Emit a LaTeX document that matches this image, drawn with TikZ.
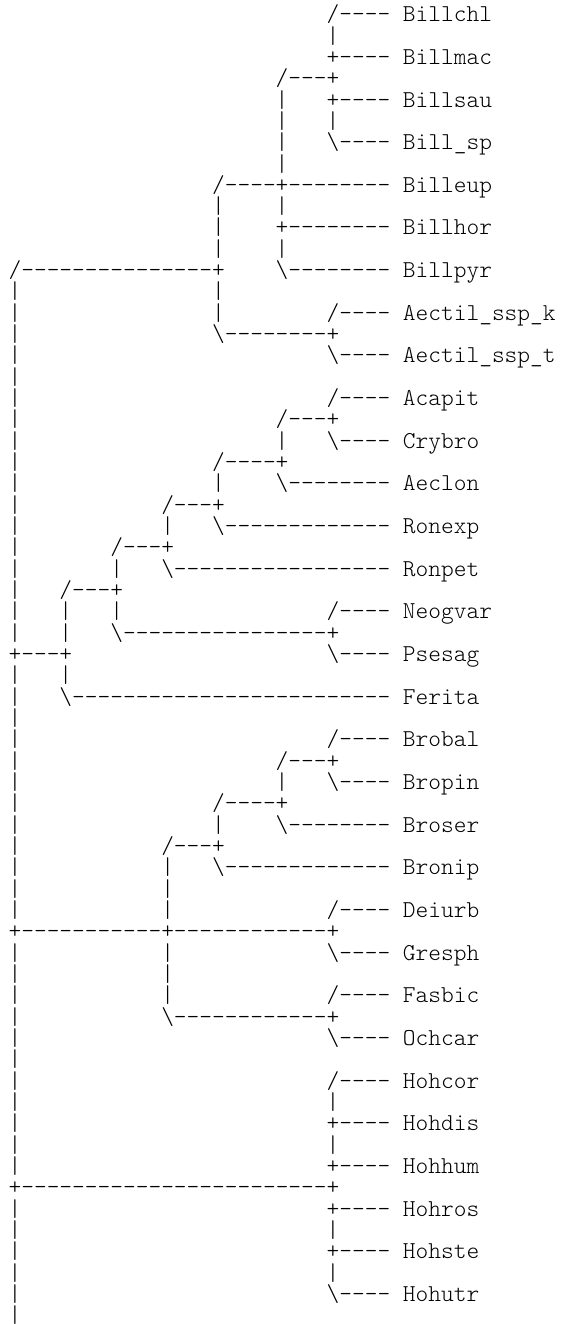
\documentclass[tikz,border=0pt]{standalone}
\usepackage{fontspec}
\setmonofont{lmmonolt10-regular.otf}
\tikzset{seg/.style={inner sep=0pt, outer sep=0pt, anchor=base west,
  font=\ttfamily\fontsize{11.43pt}{11.43pt}\selectfont, text=black}}
\newcommand\asciiseg[3]{\node[seg] (r#1c#2) at ({4.06pt+#2*6pt},{-10.24pt-#1*10.06pt}) {#3};}
\newcommand\bs{\textbackslash}
\begin{document}
\begin{tikzpicture}
\useasboundingbox (0,0) rectangle (265.6pt,-624.5pt);
\asciiseg{0}{25}{/----~Billchl}
\asciiseg{1}{25}{|}
\asciiseg{2}{25}{+----~Billmac}
\asciiseg{3}{21}{/---+}
\asciiseg{4}{21}{|}\asciiseg{4}{25}{+----~Billsau}
\asciiseg{5}{21}{|}\asciiseg{5}{25}{|}
\asciiseg{6}{21}{|}\asciiseg{6}{25}{\bs----~Bill\_sp}
\asciiseg{7}{21}{|}
\asciiseg{8}{16}{/----+--------~Billeup}
\asciiseg{9}{16}{|}\asciiseg{9}{21}{|}
\asciiseg{10}{16}{|}\asciiseg{10}{21}{+--------~Billhor}
\asciiseg{11}{16}{|}\asciiseg{11}{21}{|}
\asciiseg{12}{0}{/---------------+}\asciiseg{12}{21}{\bs--------~Billpyr}
\asciiseg{13}{0}{|}\asciiseg{13}{16}{|}
\asciiseg{14}{0}{|}\asciiseg{14}{16}{|}\asciiseg{14}{25}{/----~Aectil\_ssp\_k}
\asciiseg{15}{0}{|}\asciiseg{15}{16}{\bs--------+}
\asciiseg{16}{0}{|}\asciiseg{16}{25}{\bs----~Aectil\_ssp\_t}
\asciiseg{17}{0}{|}
\asciiseg{18}{0}{|}\asciiseg{18}{25}{/----~Acapit}
\asciiseg{19}{0}{|}\asciiseg{19}{21}{/---+}
\asciiseg{20}{0}{|}\asciiseg{20}{21}{|}\asciiseg{20}{25}{\bs----~Crybro}
\asciiseg{21}{0}{|}\asciiseg{21}{16}{/----+}
\asciiseg{22}{0}{|}\asciiseg{22}{16}{|}\asciiseg{22}{21}{\bs--------~Aeclon}
\asciiseg{23}{0}{|}\asciiseg{23}{12}{/---+}
\asciiseg{24}{0}{|}\asciiseg{24}{12}{|}\asciiseg{24}{16}{\bs-------------~Ronexp}
\asciiseg{25}{0}{|}\asciiseg{25}{8}{/---+}
\asciiseg{26}{0}{|}\asciiseg{26}{8}{|}\asciiseg{26}{12}{\bs-----------------~Ronpet}
\asciiseg{27}{0}{|}\asciiseg{27}{4}{/---+}
\asciiseg{28}{0}{|}\asciiseg{28}{4}{|}\asciiseg{28}{8}{|}\asciiseg{28}{25}{/----~Neogvar}
\asciiseg{29}{0}{|}\asciiseg{29}{4}{|}\asciiseg{29}{8}{\bs----------------+}
\asciiseg{30}{0}{+---+}\asciiseg{30}{25}{\bs----~Psesag}
\asciiseg{31}{0}{|}\asciiseg{31}{4}{|}
\asciiseg{32}{0}{|}\asciiseg{32}{4}{\bs-------------------------~Ferita}
\asciiseg{33}{0}{|}
\asciiseg{34}{0}{|}\asciiseg{34}{25}{/----~Brobal}
\asciiseg{35}{0}{|}\asciiseg{35}{21}{/---+}
\asciiseg{36}{0}{|}\asciiseg{36}{21}{|}\asciiseg{36}{25}{\bs----~Bropin}
\asciiseg{37}{0}{|}\asciiseg{37}{16}{/----+}
\asciiseg{38}{0}{|}\asciiseg{38}{16}{|}\asciiseg{38}{21}{\bs--------~Broser}
\asciiseg{39}{0}{|}\asciiseg{39}{12}{/---+}
\asciiseg{40}{0}{|}\asciiseg{40}{12}{|}\asciiseg{40}{16}{\bs-------------~Bronip}
\asciiseg{41}{0}{|}\asciiseg{41}{12}{|}
\asciiseg{42}{0}{|}\asciiseg{42}{12}{|}\asciiseg{42}{25}{/----~Deiurb}
\asciiseg{43}{0}{+-----------+------------+}
\asciiseg{44}{0}{|}\asciiseg{44}{12}{|}\asciiseg{44}{25}{\bs----~Gresph}
\asciiseg{45}{0}{|}\asciiseg{45}{12}{|}
\asciiseg{46}{0}{|}\asciiseg{46}{12}{|}\asciiseg{46}{25}{/----~Fasbic}
\asciiseg{47}{0}{|}\asciiseg{47}{12}{\bs------------+}
\asciiseg{48}{0}{|}\asciiseg{48}{25}{\bs----~Ochcar}
\asciiseg{49}{0}{|}
\asciiseg{50}{0}{|}\asciiseg{50}{25}{/----~Hohcor}
\asciiseg{51}{0}{|}\asciiseg{51}{25}{|}
\asciiseg{52}{0}{|}\asciiseg{52}{25}{+----~Hohdis}
\asciiseg{53}{0}{|}\asciiseg{53}{25}{|}
\asciiseg{54}{0}{|}\asciiseg{54}{25}{+----~Hohhum}
\asciiseg{55}{0}{+------------------------+}
\asciiseg{56}{0}{|}\asciiseg{56}{25}{+----~Hohros}
\asciiseg{57}{0}{|}\asciiseg{57}{25}{|}
\asciiseg{58}{0}{|}\asciiseg{58}{25}{+----~Hohste}
\asciiseg{59}{0}{|}\asciiseg{59}{25}{|}
\asciiseg{60}{0}{|}\asciiseg{60}{25}{\bs----~Hohutr}
\asciiseg{61}{0}{|}
\end{tikzpicture}
\end{document}
